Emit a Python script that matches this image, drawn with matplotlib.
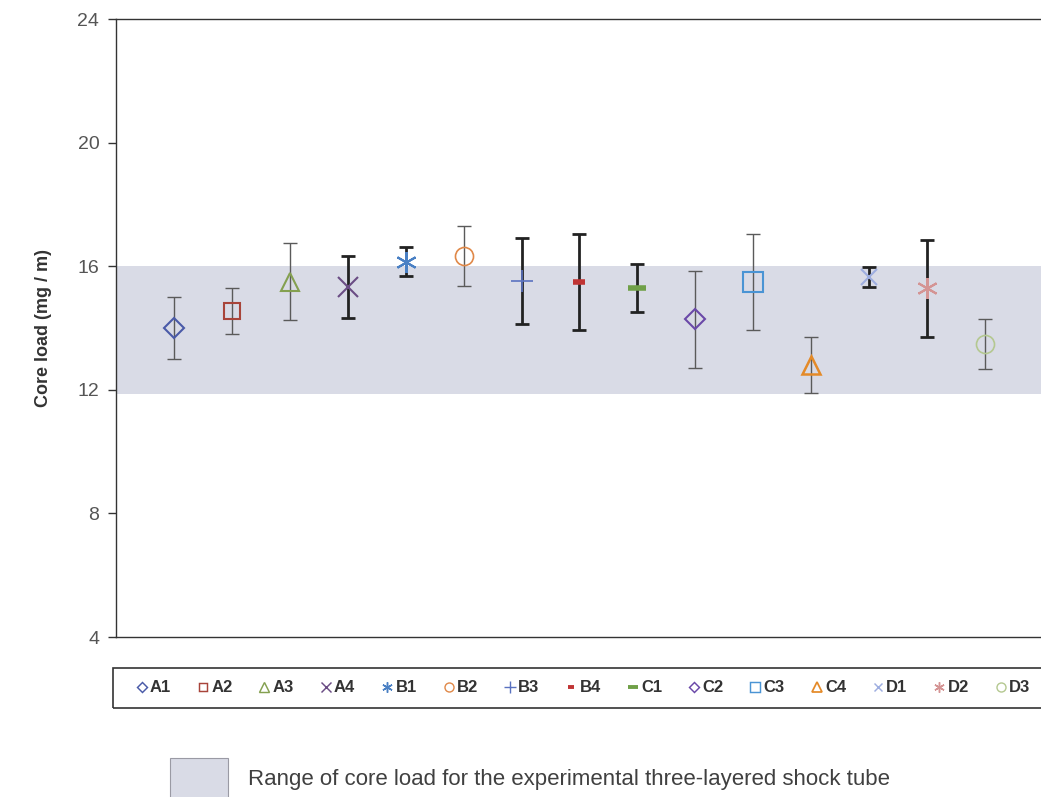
import matplotlib
matplotlib.use("Agg")
import matplotlib.pyplot as plt
from matplotlib.lines import Line2D
from matplotlib.patches import Rectangle

plt.rcParams["font.family"] = ["Liberation Sans", "DejaVu Sans"]

# Samples, mean core load and error half-width
samples = ["A1", "A2", "A3", "A4", "B1", "B2", "B3", "B4",
           "C1", "C2", "C3", "C4", "D1", "D2", "D3"]
core_load = [14.0, 14.55, 15.5, 15.33, 16.14, 16.33, 15.52, 15.5,
             15.3, 14.29, 15.5, 12.8, 15.65, 15.28, 13.48]
load_err = [1.0, 0.73, 1.25, 1.0, 0.47, 0.98, 1.4, 1.55,
            0.77, 1.57, 1.55, 0.9, 0.32, 1.57, 0.8]
thick_bar = [False, False, False, True, True, False, True, True,
             True, False, False, False, True, True, False]

# Experimental range (shaded band)
band_low, band_high = 11.85, 16.0

# Marker style per sample: (marker, colour, size, edge width)
STYLES = {
    "A1": ("D", "#4a5aa8", 10, 1.5),
    "A2": ("s", "#a8443a", 12, 1.5),
    "A3": ("^", "#84a050", 13, 1.5),
    "A4": ("x", "#6a4c84", 14, 1.5),
    "B1": ((6, 2, 0), "#4a80c4", 15, 1.5),
    "B2": ("o", "#e08848", 13, 1.2),
    "B3": ("+", "#5a72c0", 16, 1.2),
    "B4": ("_", "#c03434", 8, 4),
    "C1": ("_", "#70a048", 13, 4),
    "C2": ("D", "#6a48a8", 10, 1.5),
    "C3": ("s", "#4a94d4", 14, 1.5),
    "C4": ("^", "#e48a28", 13, 1.8),
    "D1": ("x", "#9eaee0", 12, 1.5),
    "D2": ((6, 2, 0), "#d49494", 15, 1.5),
    "D3": ("o", "#b4c890", 13, 1.2),
}

W, H = 1041, 797
fig = plt.figure(figsize=(W / 100, H / 100), dpi=100)
ax = fig.add_axes([116 / W, 1 - 637 / H, 927 / W, 618 / H])

ax.axhspan(band_low, band_high, color="#d9dbe6", lw=0, zorder=0)

positions = list(range(1, len(samples) + 1))
for x, name, y, err, thick in zip(positions, samples, core_load, load_err, thick_bar):
    marker, color, ms, mew = STYLES[name]
    ax.errorbar(x, y, yerr=err, fmt="none",
                ecolor="#222222" if thick else "#5a5a5a",
                elinewidth=2.0 if thick else 1.0,
                capthick=2.0 if thick else 1.0, capsize=5, zorder=2)
    ax.plot(x, y, linestyle="none", marker=marker, markersize=ms,
            markeredgewidth=mew, markeredgecolor=color,
            markerfacecolor="none", color=color, zorder=3)

ax.set_xlim(0, 16)
ax.set_ylim(4, 24)
ax.set_yticks([4, 8, 12, 16, 20, 24])
ax.set_xticks([])
ax.tick_params(axis="y", direction="out", length=6, width=1,
               color="#333333", labelcolor="#555555", labelsize=14, pad=6)
for side in ["left", "top", "bottom", "right"]:
    ax.spines[side].set_color("#333333")
    ax.spines[side].set_linewidth(1.0)
ax.set_ylabel("Core load (mg / m)", fontsize=13, fontweight="bold",
              color="#333333", labelpad=18)

# Sample legend in a box along the bottom
fig.patches.append(Rectangle((113 / W, 1 - 708 / H), 960 / W, 40 / H,
                             transform=fig.transFigure, facecolor="none",
                             edgecolor="#333333", linewidth=1.2))
handles = []
for name in samples:
    marker, color, ms, mew = STYLES[name]
    handles.append(Line2D([], [], linestyle="none", marker=marker,
                          markersize=ms * 0.5, markeredgewidth=max(mew * 0.7, 1.0),
                          markeredgecolor=color, markerfacecolor="none",
                          color=color, label=name))
leg = fig.legend(handles=handles, ncol=len(samples), mode="expand",
                 loc="center left",
                 bbox_to_anchor=(129 / W, 1 - 708 / H, 908 / W, 40 / H),
                 frameon=False, borderaxespad=0,
                 handlelength=0.7, handletextpad=0.15,
                 prop={"weight": "bold", "size": 12})
for t in leg.get_texts():
    t.set_color("#333333")

# Shaded-range key
fig.patches.append(Rectangle((170 / W, 1 - 808 / H), 58 / W, 50 / H,
                             transform=fig.transFigure, facecolor="#d9dbe6",
                             edgecolor="#9a9aa4", linewidth=0.8))
fig.text(248 / W, 1 - 779 / H,
         "Range of core load for the experimental three-layered shock tube",
         fontsize=16, color="#404040", va="center", ha="left")

fig.savefig("out.png", dpi=100)
